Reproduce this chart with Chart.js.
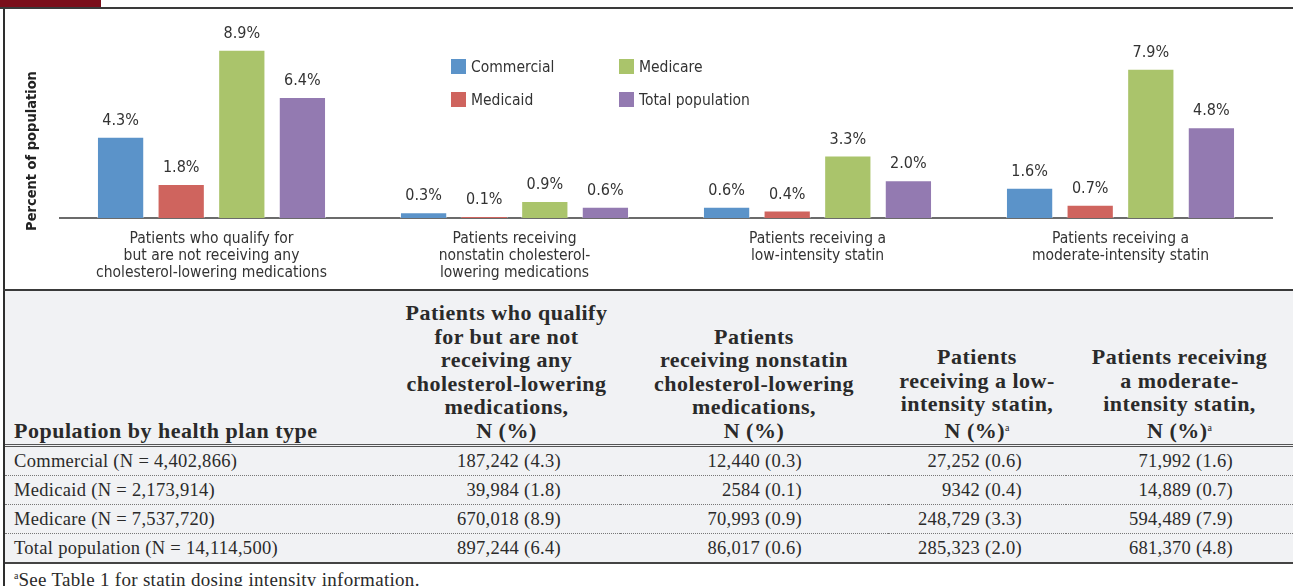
<!DOCTYPE html>
<html>
<head>
<meta charset="utf-8">
<script src="https://cdn.jsdelivr.net/npm/chart.js@4.4.1/dist/chart.umd.min.js"></script>
<style>
  body { margin: 0; width: 1293px; height: 586px; overflow: hidden; background: #fff; position: relative; }
  #redTab { position: absolute; left: 0; top: 0; width: 101px; height: 7px; background: #7a0f1b; }
  #topRule { position: absolute; left: 0; top: 7px; width: 1293px; height: 2px; background: #3a3a3a; }
  #leftRule { position: absolute; left: 3px; top: 9px; width: 2px; height: 577px; background: #2e2e2e; }
  #chartBox { position: absolute; left: 5px; top: 9px; width: 1288px; height: 281px; }
  #midRule { position: absolute; left: 3px; top: 289px; width: 1290px; height: 2px; background: #3a3a3a; }
  #legend { position: absolute; left: 451px; top: 58px; width: 330px; font-family: "DejaVu Sans Condensed", sans-serif; font-size: 15.5px; color: #333; }
  .lg { position: absolute; white-space: nowrap; height: 18px; line-height: 18px; }
  .lg span.box { display: inline-block; width: 15px; height: 15px; vertical-align: -2px; margin-right: 5px; }
  table { position: absolute; left: 5px; top: 291px; width: 1288px; border-collapse: collapse; table-layout: fixed; background: #f1f2f4; font-family: "Liberation Serif", "DejaVu Serif", serif; color: #2a2a2a; }
  th { font-weight: bold; font-size: 22px; letter-spacing: 0.5px; line-height: 23.5px; vertical-align: bottom; text-align: center; padding: 0 0 2px 0; height: 151px; border-bottom: 3px double #555; }
  th.first { text-align: left; padding-left: 9px; }
  td { font-size: 18.5px; letter-spacing: 0.3px; height: 28px; padding: 0; border-bottom: 1px dotted #777; text-align: right; white-space: nowrap; }
  td.first { text-align: left; padding-left: 9px; }
  tr.last td { border-bottom: 2px solid #444; }
  sup { font-size: 10px; vertical-align: 7px; font-weight: normal; letter-spacing: 0; }
  #foot { position: absolute; left: 14px; top: 569px; font-family: "Liberation Serif", "DejaVu Serif", serif; font-size: 19px; letter-spacing: 0.3px; color: #2a2a2a; white-space: nowrap; }
</style>
</head>
<body>
<div id="redTab"></div>
<div id="topRule"></div>
<div id="leftRule"></div>
<div id="chartBox"><canvas id="statinChart"></canvas></div>
<div id="legend"></div>
<div id="midRule"></div>
<table id="tbl"></table>
<div id="foot"><sup>a</sup>See Table 1 for statin dosing intensity information.</div>

<script>
// Categorias del grafico
const categories = [
    ['Patients who qualify for', 'but are not receiving any', 'cholesterol-lowering medications'],
    ['Patients receiving', 'nonstatin cholesterol-', 'lowering medications'],
    ['Patients receiving a', 'low-intensity statin'],
    ['Patients receiving a', 'moderate-intensity statin']
];

// Porcentajes por tipo de plan
const commercialPct = [4.3, 0.3, 0.6, 1.6];
const medicaidPct = [1.8, 0.1, 0.4, 0.7];
const medicarePct = [8.9, 0.9, 3.3, 7.9];
const totalPct = [6.4, 0.6, 2.0, 4.8];

// Conteos de la tabla
const commercialN = ['187,242', '12,440', '27,252', '71,992'];
const medicaidN = ['39,984', '2584', '9342', '14,889'];
const medicareN = ['670,018', '70,993', '248,729', '594,489'];
const totalN = ['897,244', '86,017', '285,323', '681,370'];

const planLabels = ['Commercial (N = 4,402,866)', 'Medicaid (N = 2,173,914)', 'Medicare (N = 7,537,720)', 'Total population (N = 14,114,500)'];
const tableHeaders = [
    'Patients who qualify<br>for but are not<br>receiving any<br>cholesterol-lowering<br>medications,<br>N (%)',
    'Patients<br>receiving nonstatin<br>cholesterol-lowering<br>medications,<br>N (%)',
    'Patients<br>receiving a low-<br>intensity statin,<br>N (%)<sup>a</sup>',
    'Patients receiving<br>a moderate-<br>intensity statin,<br>N (%)<sup>a</sup>'
];

const seriesNames = ['Commercial', 'Medicaid', 'Medicare', 'Total population'];
const seriesColors = ['#5b93c9', '#cf645e', '#aac46b', '#937ab1'];

const narrow = '"DejaVu Sans Condensed", sans-serif';

// Etiquetas de valor encima de las barras
const valueLabels = {
    id: 'valueLabels',
    afterDatasetsDraw(chart) {
        const ctx = chart.ctx;
        ctx.save();
        ctx.font = '16px ' + narrow;
        ctx.fillStyle = '#333';
        ctx.textAlign = 'center';
        ctx.textBaseline = 'bottom';
        chart.data.datasets.forEach((ds, i) => {
            chart.getDatasetMeta(i).data.forEach((bar, j) => {
                ctx.fillText(ds.data[j].toFixed(1) + '%', bar.x, bar.y - 8);
            });
        });
        // titulo del eje y
        ctx.translate(27, 142);
        ctx.rotate(-Math.PI / 2);
        ctx.font = 'bold 14.5px ' + narrow;
        ctx.fillStyle = '#222';
        ctx.textBaseline = 'middle';
        ctx.fillText('Percent of population', 0, 0);
        ctx.restore();
    }
};

const pctSeries = [commercialPct, medicaidPct, medicarePct, totalPct];

const statinChart = new Chart(document.getElementById('statinChart'), {
    type: 'bar',
    data: {
        labels: categories,
        datasets: pctSeries.map((d, i) => ({
            label: seriesNames[i],
            data: d,
            backgroundColor: seriesColors[i],
            borderColor: 'rgba(255,255,255,0.45)',
            borderWidth: 1,
            barPercentage: 0.78,
            categoryPercentage: 0.8
        }))
    },
    options: {
        responsive: true,
        maintainAspectRatio: false,
        animation: false,
        layout: { padding: { left: 55, right: 21, top: 20, bottom: 5 } },
        plugins: { legend: { display: false }, tooltip: { enabled: false } },
        scales: {
            y: { display: false, min: 0, max: 10 },
            x: {
                grid: { display: false },
                border: { display: true, color: '#6b6b6b', width: 2 },
                ticks: { color: '#333', font: { family: narrow, size: 15.5, lineHeight: 1.097 }, padding: 4, maxRotation: 0, autoSkip: false }
            }
        }
    },
    plugins: [valueLabels]
});

// Leyenda 2x2
const legendPos = [[0, 0], [0, 33], [168, 0], [168, 33]];
const legendEl = document.getElementById('legend');
seriesNames.forEach((name, i) => {
    const d = document.createElement('div');
    d.className = 'lg';
    d.style.left = legendPos[i][0] + 'px';
    d.style.top = legendPos[i][1] + 'px';
    d.innerHTML = '<span class="box" style="background:' + seriesColors[i] + '"></span>' + name;
    legendEl.appendChild(d);
});

// Tabla
const colWidths = [388, 227, 268, 178, 227];
const padRight = [0, 59, 86, 44, 60];
const tbl = document.getElementById('tbl');
let html = '<colgroup>' + colWidths.map(w => '<col style="width:' + w + 'px">').join('') + '</colgroup>';
html += '<tr><th class="first">Population by health plan type</th>' + tableHeaders.map(h => '<th>' + h + '</th>').join('') + '</tr>';
const countRows = [commercialN, medicaidN, medicareN, totalN];
countRows.forEach((row, r) => {
    html += '<tr' + (r === 3 ? ' class="last"' : '') + '><td class="first">' + planLabels[r] + '</td>';
    row.forEach((n, c) => {
        html += '<td style="padding-right:' + padRight[c + 1] + 'px">' + n + ' (' + pctSeries[r][c].toFixed(1) + ')</td>';
    });
    html += '</tr>';
});
tbl.innerHTML = html;
</script>
</body>
</html>
